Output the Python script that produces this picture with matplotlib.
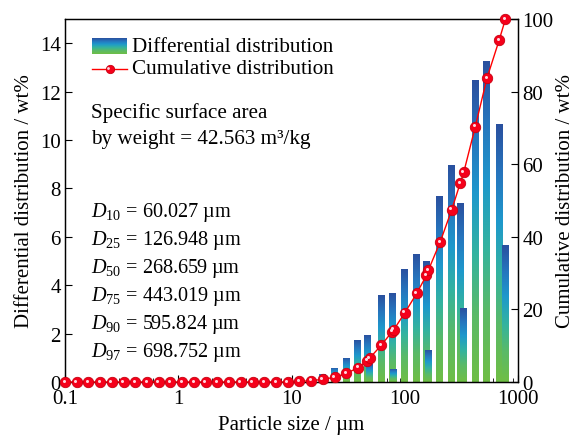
import numpy as np
import matplotlib
matplotlib.use("Agg")
import matplotlib.pyplot as plt
from matplotlib.colors import LinearSegmentedColormap
from matplotlib.lines import Line2D
import matplotlib.transforms as mtransforms

# ===================================================================
# Data
# ===================================================================

particle_size = [
    0.1, 0.1269, 0.1611, 0.2044, 0.2594, 0.3292, 0.4178, 0.5302, 0.6730, 0.8541,
    1.084, 1.376, 1.746, 2.216, 2.812, 3.569, 4.529, 5.748, 7.295, 9.259,
    11.75, 14.91, 18.92, 24.02, 30.48, 38.68, 46.7, 49.09, 62.30, 77.5,
    80.0, 100.3, 127.4, 155.6, 161.6, 205.1, 260.3, 309.0, 332.0, 419.3,
    532.1, 682.0, 775.0,
]

differential = [
    0, 0, 0, 0, 0, 0, 0, 0, 0, 0,
    0, 0, 0, 0, 0, 0, 0, 0, 0, 0,
    0.08, 0.2, 0.37, 0.61, 1.02, 1.74, 1.95, 0.75, 3.6, 3.69,
    0.54, 4.68, 5.3, 5.01, 1.33, 7.72, 9.0, 7.41, 3.07, 12.5,
    13.3, 10.69, 5.69,
]

cumulative = [
    0, 0, 0, 0, 0, 0, 0, 0, 0, 0,
    0, 0, 0, 0, 0, 0, 0, 0, 0, 0,
    0.15, 0.35, 0.75, 1.3, 2.35, 3.95, 5.85, 6.6, 10.2, 13.9,
    14.4, 19.1, 24.4, 29.4, 30.8, 38.5, 47.5, 54.8, 57.8, 70.3,
    83.7, 94.2, 100.0,
]

d_labels = ["10", "25", "50", "75", "90", "97"]
d_values = ["60.027", "126.948", "268.659", "443.019", "595.824", "698.752"]
ssa_value = "42.563"

# ===================================================================
# Style
# ===================================================================

plt.rcParams["font.family"] = "Liberation Serif"
plt.rcParams["mathtext.fontset"] = "custom"
plt.rcParams["mathtext.rm"] = "Liberation Serif"
plt.rcParams["mathtext.it"] = "Liberation Serif:italic"
plt.rcParams["axes.linewidth"] = 0.9

bar_cmap = LinearSegmentedColormap.from_list(
    "bars",
    [(0.0, "#6FBE45"), (0.22, "#5ABA68"), (0.42, "#33B3A0"),
     (0.62, "#1E98CC"), (0.8, "#2676BE"), (1.0, "#2A4F9E")],
)
grad = np.linspace(0, 1, 256).reshape(-1, 1)
half = 10 ** 0.032  # bar half width (log scale factor)
txt_size = 15.2
d_size = 14.6

fig = plt.figure(figsize=(5.74, 4.39), dpi=100)
ax = fig.add_axes([65 / 574, 56 / 439, 453 / 574, 363 / 439])
ax.set_xscale("log")

for x, h in zip(particle_size, differential):
    if h <= 0:
        continue
    ax.imshow(grad, extent=[x / half, x * half, 0, h], origin="lower",
              aspect="auto", cmap=bar_cmap, interpolation="bilinear", zorder=2)

ax.set_xlim(0.1, 1000)
ax.set_ylim(0, 15)
ax.set_yticks(range(0, 15, 2))
ax.set_xticks([0.1, 1, 10, 100, 1000])
ax.set_xticklabels(["0.1", "1", "10", "100", "1000"])
ax.tick_params(axis="both", which="both", direction="in", labelsize=15, top=False)
ax.tick_params(axis="x", which="major", length=5, pad=5)
ax.tick_params(axis="x", which="minor", length=3)
ax.tick_params(axis="y", length=5, pad=3)
ax.set_xlabel("Particle size / µm", fontsize=15, labelpad=5)
ax.set_ylabel("Differential distribution / wt%", fontsize=15, labelpad=4)

ax2 = ax.twinx()
ax2.set_ylim(0, 100)
ax2.set_yticks(range(0, 101, 20))
ax2.tick_params(axis="y", direction="in", length=5, labelsize=15, pad=3)
ax2.set_ylabel("Cumulative distribution / wt%", fontsize=15, labelpad=2)

hl = mtransforms.ScaledTranslation(-1.4 / 100, 1.4 / 100, fig.dpi_scale_trans)
ax2.plot(particle_size, cumulative, color="#FF0000", lw=1.0, marker="o", ms=7.5,
         mfc="#F5001A", mec="#C80010", mew=0.6, clip_on=False, zorder=3)
ax2.plot(particle_size, cumulative, ls="none", marker="o", ms=2.2,
         mfc="#FFD6DE", mec="none", clip_on=False, zorder=4,
         transform=ax2.transData + hl)

# ---- legend (drawn by hand so the patch can carry the gradient) ----
lax = fig.add_axes([92 / 574, (439 - 55) / 439, 35 / 574, 16 / 439])
lax.imshow(grad, origin="lower", aspect="auto", cmap=bar_cmap, interpolation="bilinear")
lax.axis("off")
ax2.text((132 - 65) / 453, (383 - 47) / 363, "Differential distribution",
         transform=ax2.transAxes, fontsize=txt_size, va="center")
leg_y = (383 - 70) / 363
ax2.add_line(Line2D([(92 - 65) / 453, (127 - 65) / 453], [leg_y, leg_y],
                    transform=ax2.transAxes, color="#FF0000", lw=1.0))
ax2.plot([(109.5 - 65) / 453], [leg_y], transform=ax2.transAxes, marker="o", ms=6,
         mfc="#F5001A", mec="#C80010", mew=0.6, clip_on=False)
ax2.plot([(109.5 - 65) / 453], [leg_y], transform=ax2.transAxes + hl, marker="o",
         ms=2, mfc="#FFD6DE", mec="none", clip_on=False)
ax2.text((132 - 65) / 453, (383 - 69) / 363, "Cumulative distribution",
         transform=ax2.transAxes, fontsize=txt_size, va="center")

# ---- annotations ----
ax2.text((91 - 65) / 453, (383 - 113) / 363, "Specific surface area",
         transform=ax2.transAxes, fontsize=txt_size, va="center")
ax2.text((91 - 65) / 453, (383 - 140) / 363, f"by weight = {ssa_value} m³/kg",
         transform=ax2.transAxes, fontsize=txt_size, va="center")

for i, (lab, val) in enumerate(zip(d_labels, d_values)):
    py = 213 + i * 28
    ax2.text((91 - 65) / 453, (383 - py) / 363, rf"$D_{{{lab}}}$ = {val} µm",
             transform=ax2.transAxes, fontsize=d_size, va="center")

fig.savefig("out.png", dpi=100)
